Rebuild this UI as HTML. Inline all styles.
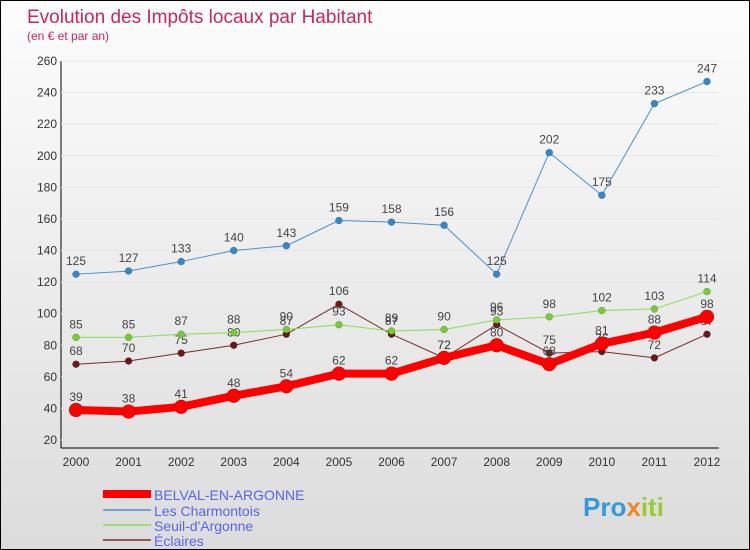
<!DOCTYPE html>
<html><head><meta charset="utf-8"><style>
body{margin:0}
#c{width:748px;height:548px;border:1px solid #000;background:linear-gradient(#fdfdfd,#dcdcdc);position:relative;font-family:"Liberation Sans",sans-serif;overflow:hidden}
text{font-family:"Liberation Sans",sans-serif}
</style></head><body>
<div id="c">
<svg id="s" width="748" height="548">
<text x="26" y="22" font-size="19" fill="#c8285a">Evolution des Impôts locaux par Habitant</text>
<text x="26" y="39" font-size="12" fill="#c8285a">(en € et par an)</text>
<line x1="60" y1="60" x2="60" y2="447" stroke="#000"/>
<line x1="60" y1="447" x2="718" y2="447" stroke="#000"/>
<g id="grid"></g><g id="ticks"></g><g id="series"></g>
<g>
<line x1="102" y1="493" x2="150" y2="493" stroke="#f00" stroke-width="8"/>
<text x="153" y="499" font-size="14" fill="#5566ee">BELVAL-EN-ARGONNE</text>
<line x1="102" y1="509" x2="150" y2="509" stroke="#4a90d0" stroke-width="1.5"/>
<text x="153" y="515" font-size="14" fill="#5566ee">Les Charmontois</text>
<line x1="102" y1="524" x2="150" y2="524" stroke="#88dd55" stroke-width="1.5"/>
<text x="153" y="530" font-size="14" fill="#5566ee">Seuil-d'Argonne</text>
<line x1="102" y1="539" x2="150" y2="539" stroke="#7a2a2a" stroke-width="1.5"/>
<text x="153" y="545" font-size="14" fill="#5566ee">Éclaires</text>
</g>
<text x="582" y="515" font-size="26" font-weight="bold" fill="#3399dd">Pro<tspan fill="#ee8822">x</tspan><tspan fill="#99cc33">iti</tspan></text>
</svg>
</div>
<script>
const years=["2000","2001","2002","2003","2004","2005","2006","2007","2008","2009","2010","2011","2012"];
const belval=[39,38,41,48,54,62,62,72,80,68,81,88,98];
const charmontois=[125,127,133,140,143,159,158,156,125,202,175,233,247];
const seuil=[85,85,87,88,90,93,89,90,96,98,102,103,114];
const eclaires=[68,70,75,80,87,106,87,72,93,75,76,72,87];
const yTicks=[20,40,60,80,100,120,140,160,180,200,220,240,260];
const NS="http://www.w3.org/2000/svg";
const X=i=>75+i*(706-75)/12;
const Y=v=>439-(v-20)*(379/240);
function mk(t,a,p){const e=document.createElementNS(NS,t);for(const k in a)e.setAttribute(k,a[k]);p.appendChild(e);return e;}
const grid=document.getElementById('grid'),ticks=document.getElementById('ticks'),ser=document.getElementById('series');
yTicks.forEach(v=>{
 const l=mk('line',{x1:60,x2:718,y1:Y(v),y2:Y(v),stroke:'#e6e6e6'},grid);
 
 
 const t=mk('text',{x:56,y:Y(v)+4,'font-size':12,fill:'#333','text-anchor':'end'},ticks);
 t.textContent=v;
 
 
});
years.forEach((y,i)=>{
 const t=mk('text',{x:X(i),y:465,'font-size':12,fill:'#333','text-anchor':'middle'},ticks);
 t.textContent=y;
 
 
});
function draw(name,data,color,w,r,dot){
 const g=mk('g',{},ser);
 
 
 const p=mk('polyline',{points:data.map((v,i)=>X(i)+','+Y(v)).join(' '),fill:'none',stroke:color,'stroke-width':w,'stroke-linejoin':'round'},g);
 
 
 data.forEach((v,i)=>{
  const c=mk('circle',{cx:X(i),cy:Y(v),r:r,fill:dot,stroke:'rgba(0,0,0,0.3)','stroke-width':0.5},g);
  
  
  const t=mk('text',{x:X(i),y:Y(v)-9,'font-size':12,fill:'#444','text-anchor':'middle'},g);
  t.textContent=v;
  
  
 });
}
draw('eclaires',eclaires,'#7a2a2a',1,3.5,'#6a1a1a');
draw('seuil',seuil,'#88dd55',1,3.5,'#77cc33');
draw('charmontois',charmontois,'#4a90d0',1,3.5,'#3388cc');
draw('belval',belval,'#f00',8,7,'#f00');
</script>
</body></html>
